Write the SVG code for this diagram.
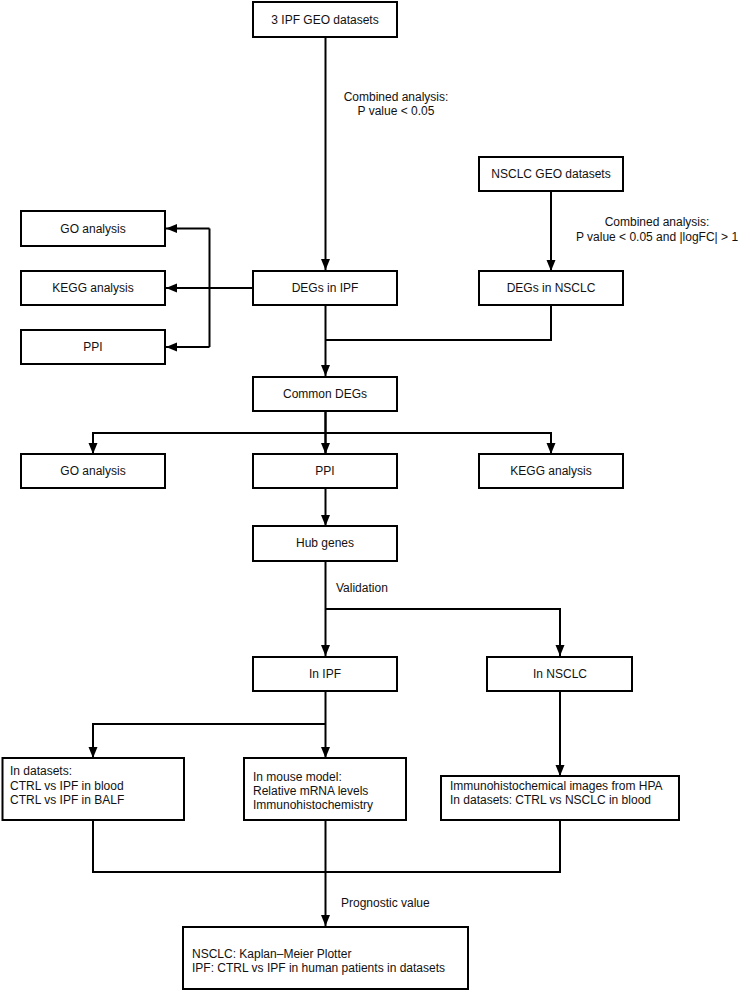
<svg xmlns="http://www.w3.org/2000/svg" width="739" height="992" viewBox="0 0 739 992">
<defs>
<marker id="ah" markerUnits="userSpaceOnUse" markerWidth="12" markerHeight="10" refX="11" refY="4.5" orient="auto">
<path d="M0,0 L11,4.5 L0,9 z" fill="#000"/>
</marker>
<style>
.box{fill:#fff;stroke:#000;stroke-width:2}
.t{font-family:"Liberation Sans",Arial,sans-serif;font-size:12px;fill:#111}
.c{text-anchor:middle}
.ln{fill:none;stroke:#000;stroke-width:2}
.ar{fill:none;stroke:#000;stroke-width:2;marker-end:url(#ah)}
</style>
</defs>
<rect width="739" height="992" fill="#fff"/>
<g id="connectors">
<path class="ar" d="M325.5,37 V270"/>
<path class="ar" d="M551,191 V271"/>
<path class="ar" d="M253,288 H166"/>
<path class="ln" d="M209.5,228.5 V347"/>
<path class="ar" d="M209.5,228.5 H166"/>
<path class="ar" d="M209.5,347 H166"/>
<path class="ar" d="M325.5,305 V376"/>
<path class="ln" d="M551,305 V340 H325.5"/>
<path class="ln" d="M325.5,411 V454"/>
<path class="ar" d="M325.5,433 H93 V454"/>
<path class="ar" d="M325.5,433 H551 V454"/>
<path class="ar" d="M325.5,411 V454"/>
<path class="ar" d="M325.5,488 V526"/>
<path class="ar" d="M325.5,561 V656"/>
<path class="ar" d="M325.5,609 H560 V656"/>
<path class="ar" d="M325.5,691 V758"/>
<path class="ar" d="M325.5,724 H93 V758"/>
<path class="ar" d="M560,691 V776"/>
<path class="ln" d="M93,820 V872 H560 V820"/>
<path class="ar" d="M325.5,820 V926"/>
</g>
<g id="label-ipf"><text class="t c" x="396" y="101">Combined analysis:</text><text class="t c" x="396" y="115">P value &lt; 0.05</text></g>
<g id="label-nsclc"><text class="t c" x="657" y="226">Combined analysis:</text><text class="t c" x="657" y="241">P value &lt; 0.05 and |logFC| &gt; 1</text></g>
<g id="label-validation"><text class="t" x="336" y="592">Validation</text></g>
<g id="label-prognostic"><text class="t" x="341" y="907">Prognostic value</text></g>
<g id="n-ipf-geo"><rect class="box" x="253" y="2" width="144" height="35"/><text class="t c" x="325" y="24">3 IPF GEO datasets</text></g>
<g id="n-nsclc-geo"><rect class="box" x="479" y="157" width="144" height="34"/><text class="t c" x="551" y="178">NSCLC GEO datasets</text></g>
<g id="n-go1"><rect class="box" x="21" y="211" width="144" height="35"/><text class="t c" x="93" y="233">GO analysis</text></g>
<g id="n-kegg1"><rect class="box" x="21" y="271" width="144" height="34"/><text class="t c" x="93" y="292">KEGG analysis</text></g>
<g id="n-ppi1"><rect class="box" x="21" y="330" width="144" height="34"/><text class="t c" x="93" y="351">PPI</text></g>
<g id="n-degs-ipf"><rect class="box" x="253" y="271" width="144" height="34"/><text class="t c" x="325" y="292">DEGs in IPF</text></g>
<g id="n-degs-nsclc"><rect class="box" x="479" y="271" width="144" height="34"/><text class="t c" x="551" y="292">DEGs in NSCLC</text></g>
<g id="n-common"><rect class="box" x="253" y="377" width="144" height="34"/><text class="t c" x="325" y="398">Common DEGs</text></g>
<g id="n-go2"><rect class="box" x="21" y="454" width="144" height="34"/><text class="t c" x="93" y="475">GO analysis</text></g>
<g id="n-ppi2"><rect class="box" x="253" y="454" width="144" height="34"/><text class="t c" x="325" y="475">PPI</text></g>
<g id="n-kegg2"><rect class="box" x="479" y="454" width="144" height="34"/><text class="t c" x="551" y="475">KEGG analysis</text></g>
<g id="n-hub"><rect class="box" x="253" y="526" width="144" height="35"/><text class="t c" x="325" y="547">Hub genes</text></g>
<g id="n-in-ipf"><rect class="box" x="253" y="657" width="144" height="34"/><text class="t c" x="325" y="678">In IPF</text></g>
<g id="n-in-nsclc"><rect class="box" x="487" y="657" width="145" height="34"/><text class="t c" x="560" y="678">In NSCLC</text></g>
<g id="n-datasets"><rect class="box" x="2.5" y="758" width="181.5" height="62"/><text class="t" x="10" y="775">In datasets:</text><text class="t" x="10" y="790">CTRL vs IPF in blood</text><text class="t" x="10" y="804">CTRL vs IPF in BALF</text></g>
<g id="n-mouse"><rect class="box" x="244" y="758" width="162" height="62"/><text class="t" x="253" y="781">In mouse model:</text><text class="t" x="253" y="795">Relative mRNA levels</text><text class="t" x="253" y="809">Immunohistochemistry</text></g>
<g id="n-hpa"><rect class="box" x="441" y="776" width="238" height="44"/><text class="t" x="450" y="790">Immunohistochemical images from HPA</text><text class="t" x="450" y="804">In datasets: CTRL vs NSCLC in blood</text></g>
<g id="n-prognostic"><rect class="box" x="183" y="927" width="285" height="62"/><text class="t" x="192" y="958">NSCLC: Kaplan–Meier Plotter</text><text class="t" x="192" y="972">IPF: CTRL vs IPF in human patients in datasets</text></g>
</svg>
